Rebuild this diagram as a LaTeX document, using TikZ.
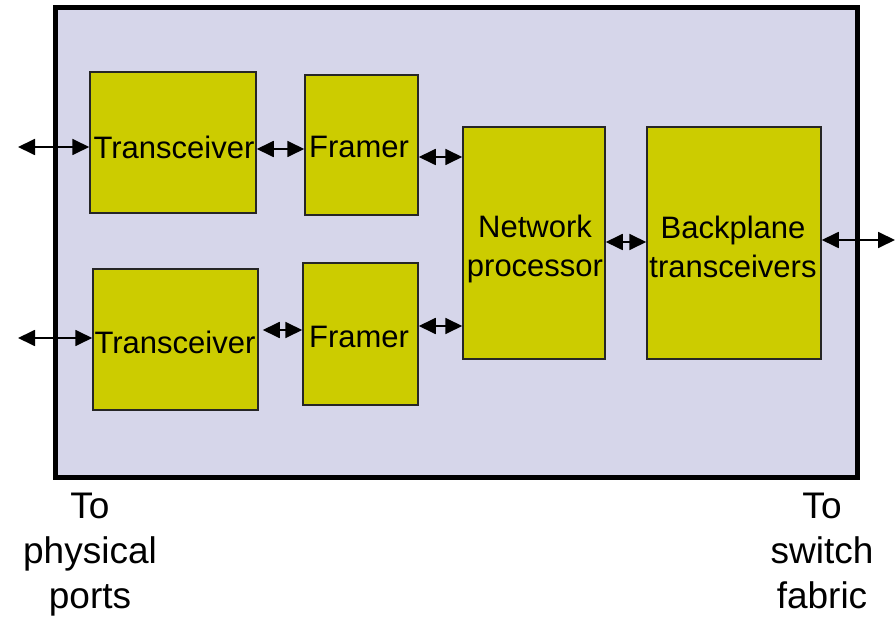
\documentclass[tikz,border=0pt]{standalone}
\usepackage{fontspec}
\setmainfont{Liberation Sans}
\usetikzlibrary{arrows.meta}
\definecolor{bgfill}{RGB}{214,214,234}
\definecolor{boxfill}{RGB}{204,204,0}
\begin{document}
\begin{tikzpicture}[x=1pt,y=-1pt,
  blk/.style={draw=black!85,line width=1.5pt,fill=boxfill,inner sep=0pt,rectangle},
  txt/.style={inner sep=0pt,font=\fontsize{31}{39}\selectfont,align=center},
  lbl/.style={inner sep=0pt,font=\fontsize{37}{45}\selectfont,align=center,anchor=north},
  arr/.style={line width=1.8pt,{Triangle[length=17pt,width=16pt]}-{Triangle[length=17pt,width=16pt]}}]
\useasboundingbox (0,0) rectangle (896,617);
% outer board
\node[draw=black,line width=5pt,fill=bgfill,minimum width=802pt,minimum height=469pt,inner sep=0pt] (board) at (456,242.5) {};
% blocks
\node[blk,minimum width=166pt,minimum height=141pt] (T1) at (173,142.5) {};
\node[blk,minimum width=113pt,minimum height=140pt] (F1) at (361.5,145) {};
\node[blk,minimum width=165pt,minimum height=141pt] (T2) at (175.5,339.5) {};
\node[blk,minimum width=115pt,minimum height=142pt] (F2) at (360.5,334) {};
\node[blk,minimum width=142pt,minimum height=232pt] (NP) at (534,243) {};
\node[blk,minimum width=174pt,minimum height=232pt] (BP) at (734,243) {};
% texts
\node[txt] (tT1) at (174,147) {Transceiver};
\node[txt] (tF1) at (359,147) {Framer};
\node[txt] (tT2) at (175,342) {Transceiver};
\node[txt] (tF2) at (359,337) {Framer};
\node[txt] (tNP) at (535,249) {Network\\processor};
\node[txt] (tBP) at (733,247) {Backplane\\transceivers};
% external ends
\coordinate (L1) at (18,147);
\coordinate (L2) at (18,338);
\coordinate (R1) at (895,240);
% connectors
\draw[arr] (L1) -- (T1.west |- L1);
\draw[arr] (L2) -- (T2.west |- L2);
\draw[arr] (T1.east |- 0,149) -- (F1.west |- 0,149);
\draw[arr] ([xshift=4pt]T2.east |- 0,330) -- (F2.west |- 0,330);
\draw[arr] (F1.east |- 0,157) -- (NP.west |- 0,157);
\draw[arr] (F2.east |- 0,326) -- (NP.west |- 0,326);
\draw[arr] (NP.east |- 0,242) -- (BP.west |- 0,242);
\draw[arr] (BP.east |- R1) -- (R1);
% bottom labels
\node[lbl] (lp) at (90,493) {To\\physical\\ports};
\node[lbl] (ls) at (822,493) {To\\switch\\fabric};
\end{tikzpicture}
\end{document}
